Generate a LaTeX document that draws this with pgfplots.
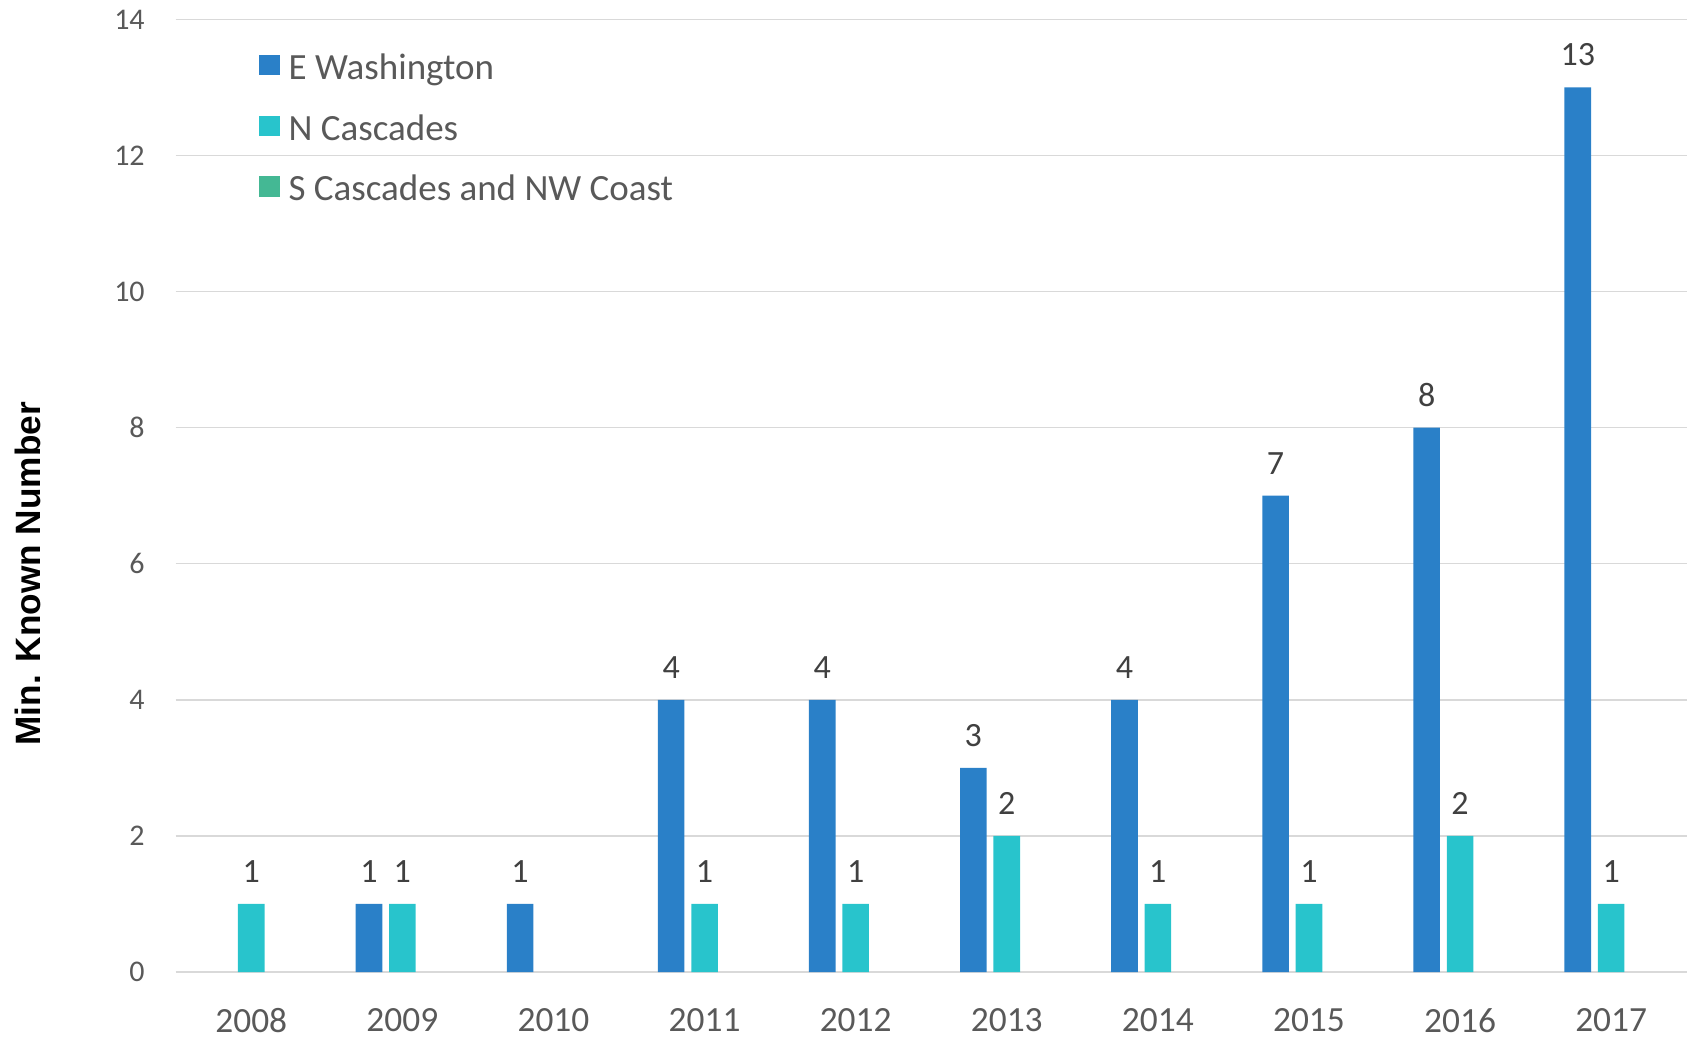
\documentclass[border=0pt]{standalone}
\usepackage{pgfplots}
\pgfplotsset{compat=1.18}
\usepackage{fontspec}
\setmainfont{Carlito}
\newfontfamily\arialfont{Liberation Sans}
\definecolor{ewash}{RGB}{42,128,200}
\definecolor{ncasc}{RGB}{40,196,204}
\definecolor{scasc}{RGB}{68,184,148}
\definecolor{gridc}{RGB}{217,217,217}
\definecolor{tickc}{RGB}{89,89,89}
\definecolor{labc}{RGB}{64,64,64}
\pgfplotsset{ybar legend/.style={legend image code/.code={\fill[##1] (0pt,-2.5pt) rectangle (10.3pt,7.8pt); \path (14.8pt,0pt);}}}
\begin{document}
\begin{tikzpicture}
\begin{axis}[
  at={(0,0)}, anchor=south west,
  scale only axis, width=755.5pt, height=476.3pt,
  xmin=-0.5, xmax=9.5, ymin=0, ymax=14,
  ytick={0,2,...,14}, xtick={0,...,9},
  xticklabels={2008,2009,2010,2011,2012,2013,2014,2015,2016,2017},
  axis line style={draw=none}, major tick length=0pt,
  ymajorgrids, grid style={gridc, line width=0.75pt},
  /pgf/number format/assume math mode=true,
  yticklabel style={font=\fontsize{15}{18}\selectfont, text=tickc, inner sep=0pt, anchor=east, xshift=-15.3pt},
  xticklabel style={font=\fontsize{17.7}{20}\selectfont, text=tickc, inner sep=0pt, anchor=north, yshift=-17.9pt},
  ybar, bar width=13.3pt,
  nodes near coords,
  nodes near coords style={font=\fontsize{17}{20}\selectfont, text=labc, inner sep=0pt, anchor=south, yshift=10.5pt},
  ylabel={Min. Known Number},
  ylabel style={at={(axis description cs:-0.0977,0.418)}, anchor=center, rotate=0, font=\arialfont\bfseries\fontsize{17.6}{20}\selectfont, text=black},
  legend cell align=left,
  legend style={at={(0,1)}, anchor=north west, xshift=41.65pt, yshift=-17pt, draw=none, fill=none, inner sep=0pt, outer sep=0pt,
    row sep=13.4pt, font=\fontsize{18.5}{20}\selectfont, text=tickc,
    nodes={inner sep=0pt, outer sep=0pt, text height=13pt, text depth=4pt}},
]
\addplot[fill=ewash, draw=none, bar shift=-16.7pt] coordinates {(1,1) (2,1) (3,4) (4,4) (5,3) (6,4) (7,7) (8,8) (9,13)};
\addlegendentry{E Washington}
\addplot[fill=ncasc, draw=none, bar shift=0pt] coordinates {(0,1) (1,1) (3,1) (4,1) (5,2) (6,1) (7,1) (8,2) (9,1)};
\addlegendentry{N Cascades}
\addlegendimage{ybar legend, fill=scasc, draw=none}
\addlegendentry{S Cascades and NW Coast}
\end{axis}
\pgfresetboundingbox
\path[use as bounding box] (-87.85pt,-33pt) rectangle (757.15pt,486pt);
\end{tikzpicture}
\end{document}
